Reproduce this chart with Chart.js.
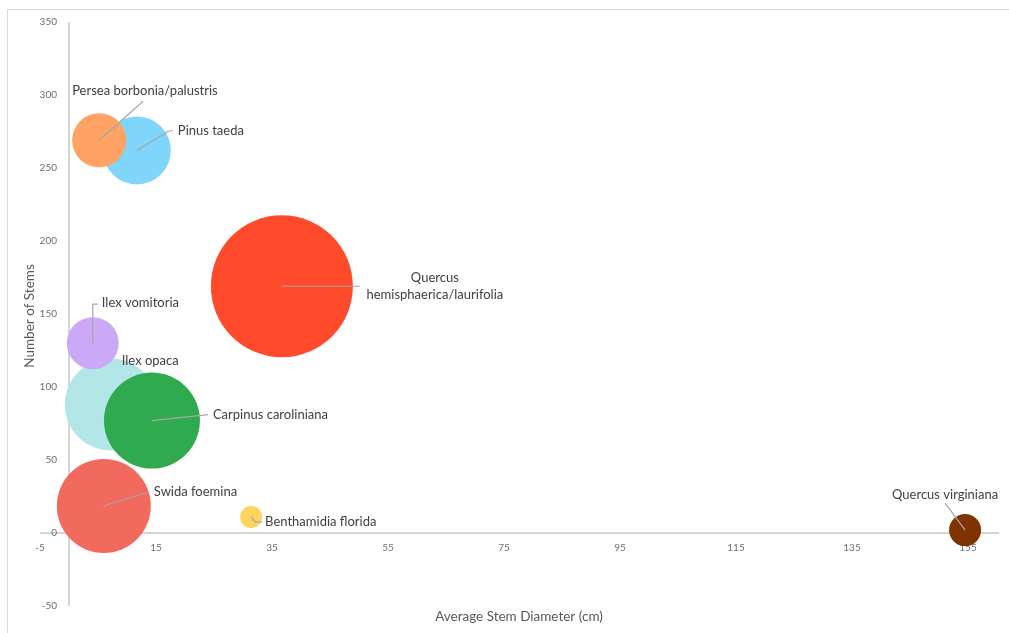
<!DOCTYPE html>
<html>
<head>
<meta charset="utf-8">
<script src="https://cdn.jsdelivr.net/npm/chart.js@4.4.1/dist/chart.umd.min.js"></script>
<style>
    html, body { margin: 0; padding: 0; background: #fff; overflow: hidden; }
    #frame {
        position: absolute; left: 7px; top: 9px; width: 1200px; height: 800px;
        border-top: 1px solid #d9d9d9; border-left: 1px solid #d9d9d9;
    }
    #wrap { position: absolute; left: 0; top: 0; width: 1009px; height: 633px; }
</style>
</head>
<body>
<div id="frame"></div>
<div id="wrap"><canvas id="bubbleChart"></canvas></div>
<script>
/* ── Data ───────────────────────────────────────────────────────────────── */

const species = [
    'Pinus taeda',
    'Persea borbonia/palustris',
    'Ilex opaca',
    'Ilex vomitoria',
    'Carpinus caroliniana',
    'Swida foemina',
    'Quercus hemisphaerica/laurifolia',
    'Benthamidia florida',
    'Quercus virginiana',
];
const avgDiameter = [11.7, 5.2, 7.2, 4.1, 14.3, 6.0, 36.7, 31.4, 154.5];
const stemCount   = [262, 269, 88, 130, 77, 18.5, 169, 11, 2];
// Relative bubble size (area), largest = 100
const bubbleSize  = [22.9, 14.5, 42.0, 13.4, 45.7, 43.8, 100, 2.4, 5.1];

const xTicks = [-5, 15, 35, 55, 75, 95, 115, 135, 155];
const yTicks = [-50, 0, 50, 100, 150, 200, 250, 300, 350];

/* ── Style ──────────────────────────────────────────────────────────────── */

const MAX_RADIUS = 71;
const FONT = "Lato, 'Open Sans', sans-serif";

const COLORS = {
    axis:   '#c8c8c8',
    tick:   '#6e6e6e',
    title:  '#595959',
    label:  '#404040',
    leader: '#a6a6a6',
    bubbles: ['#7fd6fa', '#ffa264', '#b3e6e6', '#cca9f6', '#2faa4f',
              '#f26a5e', '#ff4b2b', '#ffd45e', '#7f3300'],
};

// Label placement relative to the bubble centre (px): text anchor + leader path
const LABEL_LAYOUT = [
    { dx: 41,  dy: -20, align: 'left',   leader: [[31, -19], [36, -20]] },
    { dx: -27, dy: -49, align: 'left',   leader: [[44, -39]] },
    { dx: 11,  dy: -44, align: 'left',   leader: [] },
    { dx: 9,   dy: -40, align: 'left',   leader: [[0, -39], [5, -39]] },
    { dx: 61,  dy: -6,  align: 'left',   leader: [[56, -6]] },
    { dx: 50,  dy: -14, align: 'left',   leader: [[44, -14]] },
    { dx: 153, dy: 0,   align: 'center', leader: [[78, 0]], lines: ['Quercus', 'hemisphaerica/laurifolia'] },
    { dx: 14,  dy: 5,   align: 'left',   leader: [[4, 5], [11, 5]] },
    { dx: -20, dy: -35, align: 'center', leader: [[-20, -27]] },
];

/* ── Plugins ────────────────────────────────────────────────────────────── */

// Axes cross at (0, 0), Excel style: lines plus tick labels next to them
const crossAxesPlugin = {
    id: 'crossAxes',
    beforeDatasetsDraw(chart) {
        const { ctx, chartArea, scales: { x, y } } = chart;
        const x0 = x.getPixelForValue(0);
        const y0 = y.getPixelForValue(0);
        ctx.save();
        ctx.strokeStyle = COLORS.axis;
        ctx.lineWidth = 1.5;
        ctx.beginPath();
        ctx.moveTo(x0, chartArea.top);
        ctx.lineTo(x0, chartArea.bottom);
        ctx.moveTo(chartArea.left, y0);
        ctx.lineTo(chartArea.right + 2, y0);
        ctx.stroke();

        ctx.fillStyle = COLORS.tick;
        ctx.font = `10px ${FONT}`;
        ctx.textAlign = 'center';
        ctx.textBaseline = 'middle';
        xTicks.forEach(v => ctx.fillText(String(v), x.getPixelForValue(v), y0 + 15));
        ctx.textAlign = 'right';
        yTicks.forEach(v => ctx.fillText(String(v), x0 - 12, y.getPixelForValue(v)));
        ctx.restore();
    },
};

const labelPlugin = {
    id: 'bubbleLabels',
    afterDatasetsDraw(chart) {
        const { ctx } = chart;
        const meta = chart.getDatasetMeta(0);
        ctx.save();
        meta.data.forEach((pt, i) => {
            const lay = LABEL_LAYOUT[i];
            if (lay.leader.length) {
                ctx.beginPath();
                ctx.moveTo(pt.x, pt.y);
                lay.leader.forEach(([lx, ly]) => ctx.lineTo(pt.x + lx, pt.y + ly));
                ctx.strokeStyle = COLORS.leader;
                ctx.lineWidth = 1.2;
                ctx.stroke();
            }
            ctx.fillStyle = COLORS.label;
            ctx.font = `13px ${FONT}`;
            ctx.textAlign = lay.align;
            ctx.textBaseline = 'middle';
            const lines = lay.lines || [species[i]];
            const lh = 17;
            lines.forEach((txt, k) => {
                const off = (k - (lines.length - 1) / 2) * lh;
                ctx.fillText(txt, pt.x + lay.dx, pt.y + lay.dy + off);
            });
        });

        // Axis titles
        ctx.fillStyle = COLORS.title;
        ctx.font = `13.5px ${FONT}`;
        ctx.textAlign = 'center';
        ctx.textBaseline = 'middle';
        ctx.fillText('Average Stem Diameter (cm)', 519, 617);
        ctx.translate(30, 316);
        ctx.rotate(-Math.PI / 2);
        ctx.fillText('Number of Stems', 0, 0);
        ctx.restore();
    },
};

/* ── Chart ──────────────────────────────────────────────────────────────── */

const maxSize = Math.max(...bubbleSize);

new Chart(document.getElementById('bubbleChart').getContext('2d'), {
    type: 'bubble',
    data: {
        datasets: [{
            label: 'Species',
            data: species.map((_, i) => ({
                x: avgDiameter[i],
                y: stemCount[i],
                r: MAX_RADIUS * Math.sqrt(bubbleSize[i] / maxSize),
            })),
            backgroundColor: COLORS.bubbles,
            borderWidth: 0,
            clip: false,
        }],
    },
    options: {
        responsive: true,
        maintainAspectRatio: false,
        animation: false,
        events: [],
        layout: { autoPadding: false, padding: { left: 40, right: 12, top: 22, bottom: 27 } },
        scales: {
            x: { type: 'linear', display: false, min: -5, max: 160 },
            y: { type: 'linear', display: false, min: -50, max: 350 },
        },
        plugins: {
            legend: { display: false },
            tooltip: { enabled: false },
        },
    },
    plugins: [crossAxesPlugin, labelPlugin],
});
</script>
</body>
</html>
